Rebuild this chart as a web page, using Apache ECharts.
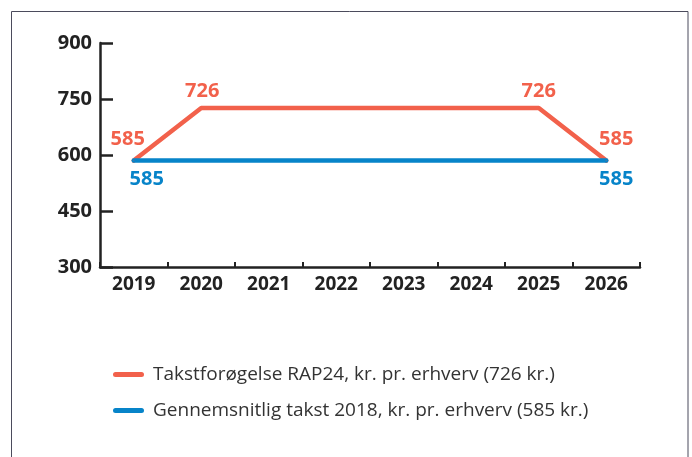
<!DOCTYPE html>
<html>
<head>
<meta charset="utf-8">
<style>
  html, body { margin: 0; padding: 0; background: #fff; }
  #chart { width: 692px; height: 457px; }
</style>
<script src="https://cdn.jsdelivr.net/npm/echarts@6/dist/echarts.min.js"></script>
</head>
<body>
<div id="chart"></div>
<script>
var years = ['2019', '2020', '2021', '2022', '2023', '2024', '2025', '2026'];
var takstRAP24 = [585, 726, 726, 726, 726, 726, 726, 585];
var takst2018 = [585, 585, 585, 585, 585, 585, 585, 585];
var yTicks = [300, 450, 600, 750, 900];
var redLabelIdx = [0, 1, 6, 7];
var blueLabelIdx = [0, 7];

var RED = '#F2614B';
var BLUE = '#0784C9';
var INK = '#222222';
var FONT = '"Open Sans", sans-serif';

// label offsets per index (which side of the point)
var redOffsets = { 0: [-6, -21], 1: [1, -17], 6: [0, -17], 7: [10, -21] };
var blueOffsets = { 0: [13, 19], 7: [10, 19] };

var ICON = 'path://M2.5,0 H28.5 A2.5,2.5 0 0 1 28.5,5 H2.5 A2.5,2.5 0 0 1 2.5,0 Z';

function buildData(values, idx, offsets, color) {
  return values.map(function (v, i) {
    var show = idx.indexOf(i) >= 0;
    return {
      value: v,
      label: {
        show: show,
        position: 'inside',
        offset: offsets[i] || [0, 0],
        color: color,
        fontFamily: FONT,
        fontWeight: 'bold',
        fontSize: 20
      }
    };
  });
}

var chart = echarts.init(document.getElementById('chart'));

var option = {
  animation: false,
  graphic: [{
    type: 'rect',
    shape: { x: 11.5, y: 11.5, width: 676.5, height: 470 },
    style: { fill: 'none', stroke: '#4b4b5c', lineWidth: 1 },
    silent: true
  }],
  grid: { left: 100, right: 52, top: 43, bottom: 190 },
  legend: {
    orient: 'vertical',
    left: 108,
    top: 360,
    itemGap: 17,
    itemWidth: 31,
    itemHeight: 5,
    textStyle: { fontFamily: FONT, fontSize: 19, color: '#333333', padding: [0, 0, 0, 4] },
    data: [
      { name: 'Takstforøgelse RAP24, kr. pr. erhverv (726 kr.)', icon: ICON },
      { name: 'Gennemsnitlig takst 2018, kr. pr. erhverv (585 kr.)', icon: ICON }
    ]
  },
  xAxis: {
    type: 'category',
    data: years,
    boundaryGap: true,
    axisLine: { lineStyle: { color: INK, width: 2.5 } },
    axisTick: { show: true, inside: true, length: 5, lineStyle: { color: INK, width: 2 } },
    axisLabel: { margin: 8, color: INK, fontFamily: FONT, fontWeight: 'bold', fontSize: 19 },
    splitLine: { show: false }
  },
  yAxis: {
    type: 'value',
    min: yTicks[0],
    max: yTicks[yTicks.length - 1],
    interval: yTicks[1] - yTicks[0],
    axisLine: { show: true, lineStyle: { color: INK, width: 2.5 } },
    axisTick: { show: true, inside: true, length: 13, lineStyle: { color: INK, width: 2.5 } },
    axisLabel: { margin: 8, color: INK, fontFamily: FONT, fontWeight: 'bold', fontSize: 20 },
    splitLine: { show: false }
  },
  series: [
    {
      name: 'Takstforøgelse RAP24, kr. pr. erhverv (726 kr.)',
      type: 'line',
      data: buildData(takstRAP24, redLabelIdx, redOffsets, RED),
      symbol: 'circle',
      symbolSize: 1,
      showSymbol: true,
      color: RED,
      lineStyle: { color: RED, width: 4.5, cap: 'round', join: 'round' }
    },
    {
      name: 'Gennemsnitlig takst 2018, kr. pr. erhverv (585 kr.)',
      type: 'line',
      data: buildData(takst2018, blueLabelIdx, blueOffsets, BLUE),
      symbol: 'circle',
      symbolSize: 1,
      showSymbol: true,
      color: BLUE,
      lineStyle: { color: BLUE, width: 4.5, cap: 'round', join: 'round' }
    }
  ]
};

chart.setOption(option);
</script>
</body>
</html>
